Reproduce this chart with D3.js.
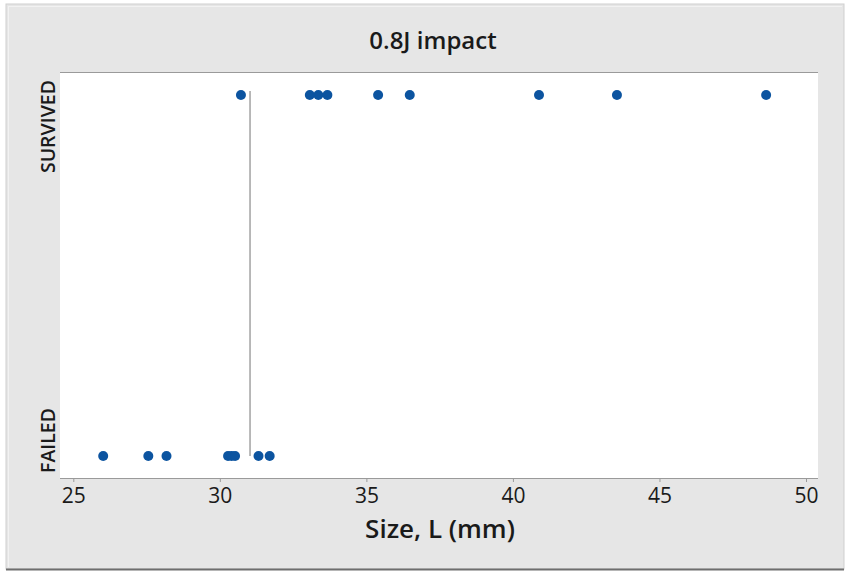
<!DOCTYPE html>
<html>
<head>
<meta charset="utf-8">
<script src="https://cdn.jsdelivr.net/npm/d3@7"></script>
<style>
  html, body { margin: 0; padding: 0; background: #ffffff; }
  svg { display: block; }
  text { font-family: "Open Sans", "Noto Sans", sans-serif; fill: #1a1a1a; }
</style>
</head>
<body>
<svg id="chart" width="848" height="572"></svg>
<script>
// ---- data ----
const title = "0.8J impact";
const xLabel = "Size, L (mm)";
const categories = ["FAILED", "SURVIVED"];
const xTicks = [25, 30, 35, 40, 45, 50];
const failedSizes = [26.02, 27.56, 28.18, 30.28, 30.4, 30.52, 31.32, 31.7];
const survivedSizes = [30.72, 33.07, 33.36, 33.67, 35.4, 36.48, 40.89, 43.55, 48.64];
const thresholdSize = 31.03;

// ---- layout ----
const W = 848, H = 572;
const plot = { left: 60, right: 818, top: 72, bottom: 478 };

const svg = d3.select("#chart");

// outer background & frame
svg.append("rect").attr("x", 0).attr("y", 0).attr("width", W).attr("height", H).attr("fill", "#ffffff");
svg.append("rect").attr("x", 6).attr("y", 4).attr("width", 838).attr("height", 565)
  .attr("fill", "#e6e6e6").attr("stroke", "#cfcfcf").attr("stroke-width", 1);
svg.append("line").attr("x1", 6).attr("x2", 844).attr("y1", 569.5).attr("y2", 569.5)
  .attr("stroke", "#6e6e6e").attr("stroke-width", 2);
svg.append("line").attr("x1", 8.5).attr("x2", 8.5).attr("y1", 6).attr("y2", 567)
  .attr("stroke", "#f2f2f2").attr("stroke-width", 1);
svg.append("line").attr("x1", 8).attr("x2", 842).attr("y1", 6.5).attr("y2", 6.5)
  .attr("stroke", "#f2f2f2").attr("stroke-width", 1);

// plot area
svg.append("rect").attr("x", plot.left).attr("y", plot.top)
  .attr("width", plot.right - plot.left).attr("height", plot.bottom - plot.top)
  .attr("fill", "#ffffff");

// scales
const x = d3.scaleLinear().domain([25, 50]).range([73.3, 806]);
const y = d3.scalePoint().domain(categories).range([456, 95]);

// top border line
svg.append("line").attr("x1", plot.left).attr("x2", plot.right)
  .attr("y1", plot.top + 0.5).attr("y2", plot.top + 0.5)
  .attr("stroke", "#9a9a9a").attr("stroke-width", 1);

// x axis
const xAxis = d3.axisBottom(x).tickValues(xTicks).tickSize(4).tickPadding(3)
  .tickFormat(d3.format("d"));
const gx = svg.append("g").attr("transform", `translate(0,${plot.bottom})`).call(xAxis);
gx.select(".domain").attr("d", `M${plot.left},0.5H${plot.right}`).attr("stroke", "#9a9a9a");
gx.selectAll(".tick line").attr("stroke", "#9a9a9a");
gx.selectAll(".tick text").attr("font-size", 21).attr("fill", "#1a1a1a")
  .attr("font-family", "'Open Sans', sans-serif").attr("dy", "0.85em");

// y category labels (rotated, clamped inside the axis extent)
const clampTop = 80, clampBottom = 473;
const yLab = svg.append("g");
categories.forEach(c => {
  const t = yLab.append("text")
    .attr("font-size", 19.5).attr("font-weight", 600)
    .attr("text-anchor", "middle")
    .text(c);
  const len = t.node().getComputedTextLength();
  let cy = y(c);
  if (cy - len / 2 < clampTop) cy = clampTop + len / 2;
  if (cy + len / 2 > clampBottom) cy = clampBottom - len / 2;
  t.attr("transform", `translate(55,${cy}) rotate(-90)`);
});

// threshold line
svg.append("line")
  .attr("x1", x(thresholdSize)).attr("x2", x(thresholdSize))
  .attr("y1", y("SURVIVED") - 4).attr("y2", y("FAILED"))
  .attr("stroke", "#8a8a8a").attr("stroke-width", 1.2);

// points
const pts = failedSizes.map(v => ({ v, c: "FAILED" }))
  .concat(survivedSizes.map(v => ({ v, c: "SURVIVED" })));
svg.append("g").selectAll("circle").data(pts).join("circle")
  .attr("cx", d => x(d.v)).attr("cy", d => y(d.c)).attr("r", 5)
  .attr("fill", "#0c54a0");

// title
svg.append("text").attr("x", 433).attr("y", 49).attr("text-anchor", "middle")
  .attr("font-size", 24).attr("font-weight", 600).text(title);

// x axis title
svg.append("text").attr("x", 440).attr("y", 538).attr("text-anchor", "middle")
  .attr("font-size", 26).attr("font-weight", 600).text(xLabel);
</script>
</body>
</html>
